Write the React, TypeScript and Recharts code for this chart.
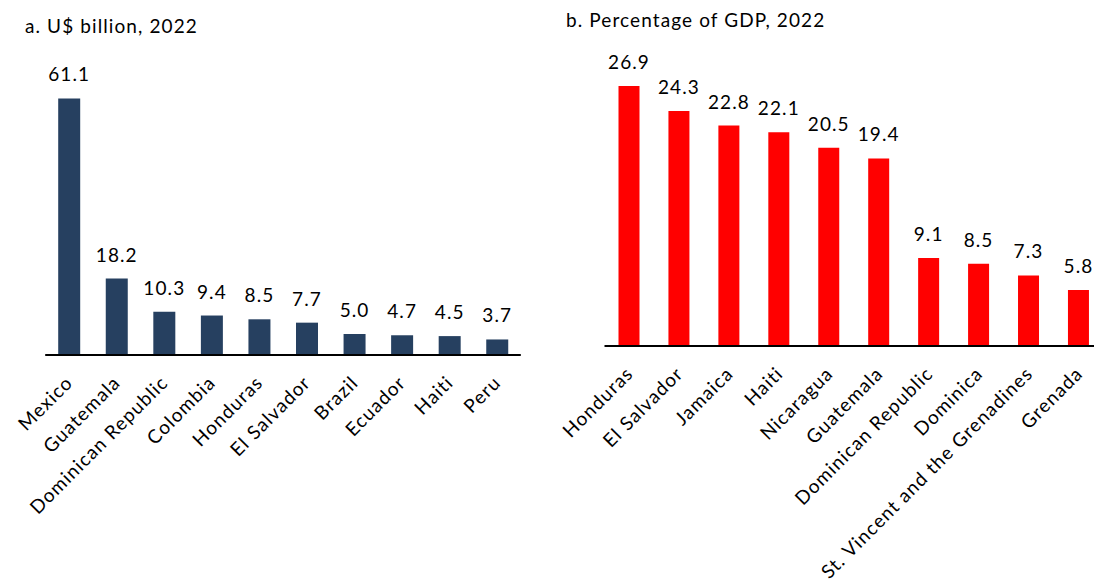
import React from 'react';
import { BarChart, Bar, XAxis, YAxis, LabelList } from 'recharts';

const leftCountries = ['Mexico', 'Guatemala', 'Dominican Republic', 'Colombia', 'Honduras', 'El Salvador', 'Brazil', 'Ecuador', 'Haiti', 'Peru'];
const leftValues = [61.1, 18.2, 10.3, 9.4, 8.5, 7.7, 5.0, 4.7, 4.5, 3.7];
const rightCountries = ['Honduras', 'El Salvador', 'Jamaica', 'Haiti', 'Nicaragua', 'Guatemala', 'Dominican Republic', 'Dominica', 'St. Vincent and the Grenadines', 'Grenada'];
const rightValues = [26.9, 24.3, 22.8, 22.1, 20.5, 19.4, 9.1, 8.5, 7.3, 5.8];
const leftTitle = 'a. U$ billion, 2022';
const rightTitle = 'b. Percentage of GDP, 2022';

const FONT = 'Lato, "DejaVu Sans", sans-serif';
const FS = 19;
const LS = 1.1;

const leftData = leftCountries.map((name, i) => ({ name, value: leftValues[i] }));
const rightData = rightCountries.map((name, i) => ({ name, value: rightValues[i] }));

const RotTick = (props: any) => {
  const { x, y, payload } = props;
  return (
    <g transform={`translate(${x + 5},${y + 29})`}>
      <text transform="rotate(-45)" textAnchor="end" fill="#000" fontSize={FS} fontFamily={FONT} letterSpacing={LS}>
        {payload.value}
      </text>
    </g>
  );
};

const fmt = (v: any) => Number(v).toFixed(1);

export default function App() {
  return (
    <div style={{ position: 'absolute', left: 0, top: 0, width: 1094, height: 588, overflow: 'hidden', background: '#fff' }}>
      <svg width={1094} height={60} style={{ position: 'absolute', left: 0, top: 0 }}>
        <text x={25} y={33} fontSize={FS} fontFamily={FONT} fill="#000" letterSpacing={LS}>{leftTitle}</text>
        <text x={566} y={27} fontSize={FS} fontFamily={FONT} fill="#000" letterSpacing={LS}>{rightTitle}</text>
      </svg>
      <div style={{ position: 'absolute', left: 0, top: 0 }}>
        <BarChart width={540} height={588} data={leftData} margin={{ top: 61, right: 19.2, bottom: 0, left: 45.2 }}>
          <XAxis
            dataKey="name"
            interval={0}
            height={233}
            tickLine={false}
            tickSize={0}
            tickMargin={0}
            axisLine={{ stroke: '#000', strokeWidth: 2 }}
            tick={<RotTick />}
          />
          <YAxis hide domain={[0, 70]} />
          <Bar dataKey="value" fill="#264060" barSize={22} isAnimationActive={false}>
            <LabelList dataKey="value" position="top" offset={17} formatter={fmt} fill="#000" fontSize={FS} fontFamily={FONT} letterSpacing={LS} />
          </Bar>
        </BarChart>
      </div>
      <div style={{ position: 'absolute', left: 540, top: 0 }}>
        <BarChart width={580} height={588} data={rightData} margin={{ top: 56, right: 16.1, bottom: 0, left: 64.5 }}>
          <XAxis
            dataKey="name"
            interval={0}
            height={242}
            tickLine={false}
            tickSize={0}
            tickMargin={0}
            axisLine={{ stroke: '#000', strokeWidth: 2 }}
            tick={<RotTick />}
          />
          <YAxis hide domain={[0, 30]} />
          <Bar dataKey="value" fill="#FF0000" barSize={21} isAnimationActive={false}>
            <LabelList dataKey="value" position="top" offset={17} formatter={fmt} fill="#000" fontSize={FS} fontFamily={FONT} letterSpacing={LS} />
          </Bar>
        </BarChart>
      </div>
    </div>
  );
}
